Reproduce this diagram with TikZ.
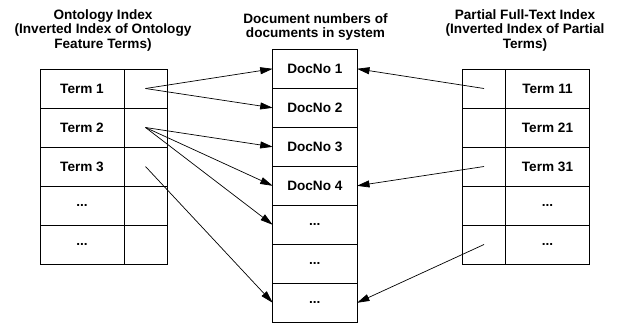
\documentclass[tikz,border=0pt]{standalone}
\usepackage{fontspec}
\setmainfont{Liberation Sans}
\usetikzlibrary{arrows.meta}
\newcommand{\elps}{...}
\begin{document}
\begin{tikzpicture}[x=1pt,y=-1pt,
  every node/.style={font=\fontsize{13.6}{14.4}\selectfont\bfseries},
  cell/.style={draw=black,line width=0.8pt,minimum height=39pt,inner sep=0pt,outer sep=0pt,anchor=center},
  termcell/.style={cell,minimum width=84pt},
  ptrcell/.style={cell,minimum width=43pt},
  doccell/.style={cell,minimum width=84.3pt},
  title/.style={align=center,inner sep=0pt,anchor=north},
  link/.style={draw=black,line width=0.7pt,-{Triangle[length=12.5pt,width=7pt]}}]
\useasboundingbox (0,0) rectangle (620,325);

% column headings
\node[title] (tl) at (103,9.5) {Ontology Index\\(Inverted Index of Ontology\\Feature Terms)};
\node[title] (tm) at (315.5,13) {Document numbers of\\documents in system};
\node[title] (tr) at (525,9.5) {Partial Full-Text Index\\(Inverted Index of Partial\\Terms)};

% ontology index: term column and pointer column
\foreach \i/\t in {1/Term 1,2/Term 2,3/Term 3,4/\elps,5/\elps}{
  \node[termcell] (lt\i) at (82,{88.5+39*(\i-1)}) {\t};
  \node[ptrcell]  (lp\i) at (145.5,{88.5+39*(\i-1)}) {};
}

% document numbers
\foreach \i/\t in {1/DocNo 1,2/DocNo 2,3/DocNo 3,4/DocNo 4,5/\elps,6/\elps,7/\elps}{
  \node[doccell] (d\i) at (314.85,{68.8+39*(\i-1)}) {\t};
}

% partial full-text index: pointer column and term column
\foreach \i/\t in {1/Term 11,2/Term 21,3/Term 31,4/\elps,5/\elps}{
  \node[ptrcell]  (rp\i) at (484,{88.5+39*(\i-1)}) {};
  \node[termcell] (rt\i) at (547.5,{88.5+39*(\i-1)}) {\t};
}

% postings from the ontology index
\draw[link] (lp1.center) -- (d1.west);
\draw[link] (lp1.center) -- (d2.west);
\draw[link] (lp2.center) -- (d3.west);
\draw[link] (lp2.center) -- (d4.west);
\draw[link] (lp2.center) -- (d5.west);
\draw[link] (lp3.center) -- (d7.west);

% postings from the partial full-text index
\draw[link] (rp1.center) -- (d1.east);
\draw[link] (rp3.center) -- (d4.east);
\draw[link] (rp5.center) -- (d7.east);
\end{tikzpicture}
\end{document}
